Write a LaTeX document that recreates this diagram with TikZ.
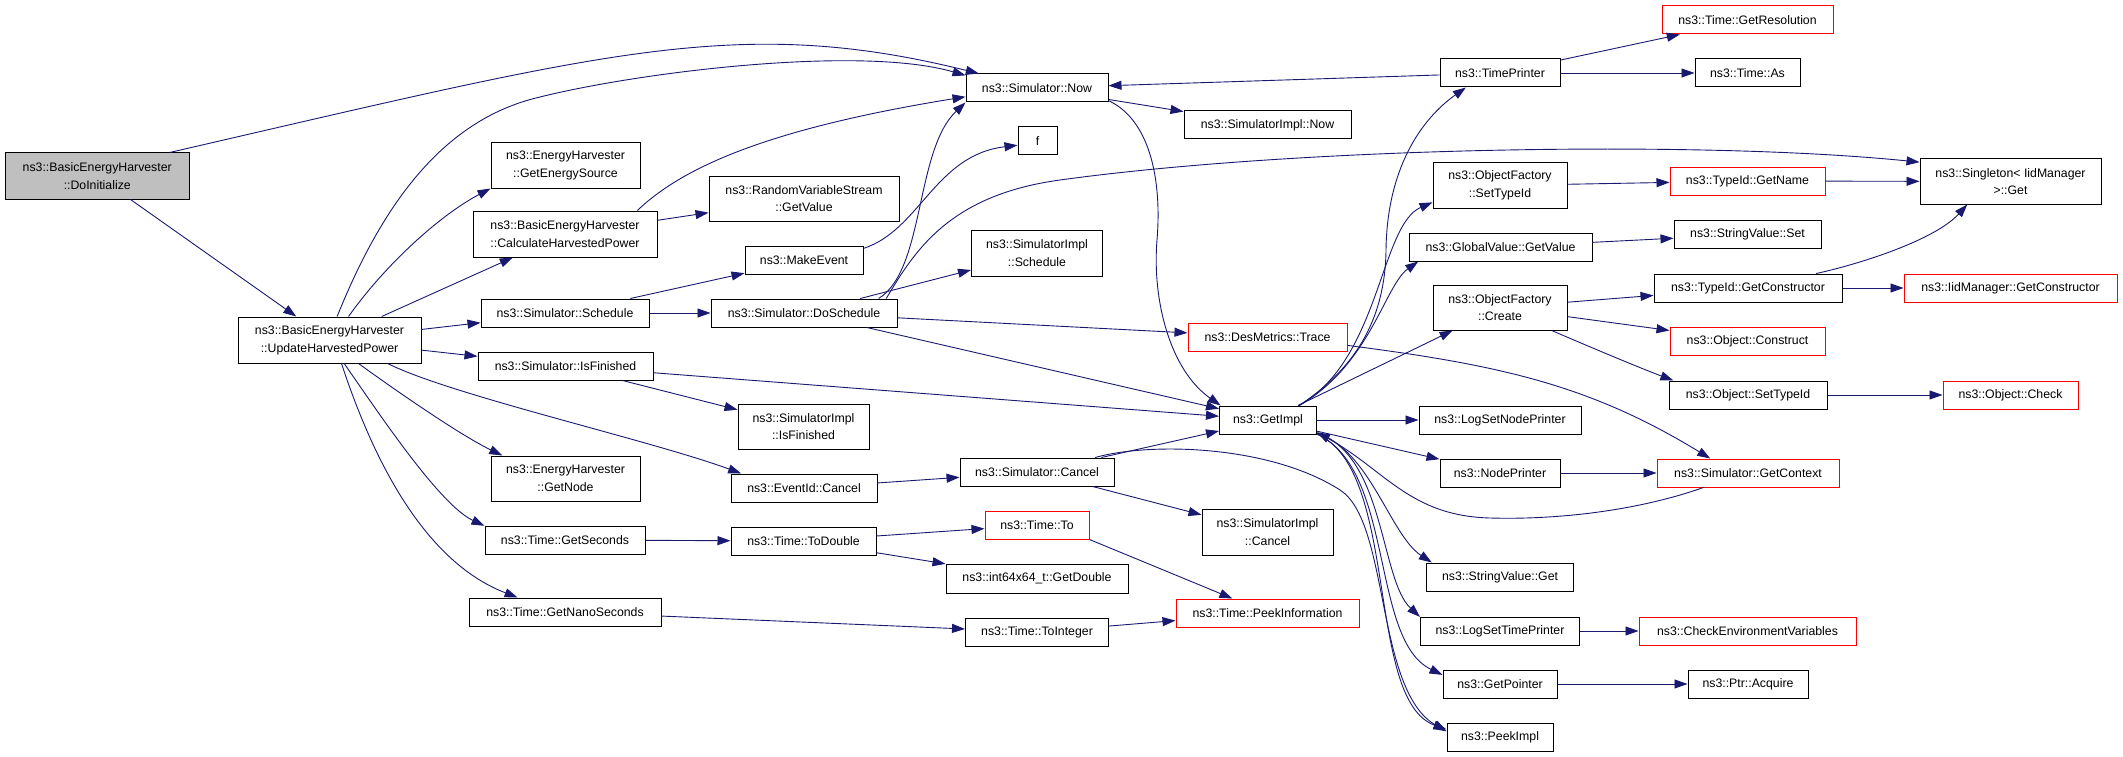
\documentclass[tikz,border=0pt]{standalone}
\usepackage{fontspec}
\setmainfont{Liberation Sans}
\usetikzlibrary{arrows.meta}
\definecolor{callblue}{RGB}{25,25,112}
\definecolor{rootgray}{RGB}{191,191,191}

\begin{document}
\begin{tikzpicture}[x=1pt, y=-1pt,
    func/.style={draw=black, line width=1pt, fill=white, inner sep=0pt, align=center,
        font=\fontsize{12.3}{17.7}\selectfont},
    trunc/.style={func, draw=red},
    root/.style={func, fill=rootgray},
    wh/.style 2 args={minimum width=#1pt, minimum height=#2pt},
    call/.style={draw=callblue, line width=0.9pt, -{Triangle[length=13pt,width=9pt]}}]
    \useasboundingbox (0,0) rectangle (2123,757);

    \node[root, wh={183.5}{46}] (dinit) at (97.25,176) {ns3::BasicEnergyHarvester\\::DoInitialize};
    \node[func, wh={183}{46}] (upd) at (329.5,340) {ns3::BasicEnergyHarvester\\::UpdateHarvestedPower};

    \node[func, wh={149}{45}] (getes) at (565.5,165.5) {ns3::EnergyHarvester\\::GetEnergySource};
    \node[func, wh={184}{46}] (calc) at (565,234) {ns3::BasicEnergyHarvester\\::CalculateHarvestedPower};
    \node[func, wh={168}{28}] (sched) at (565,313) {ns3::Simulator::Schedule};
    \node[func, wh={175}{28}] (isfin) at (565.5,366) {ns3::Simulator::IsFinished};
    \node[func, wh={149}{45}] (getnode) at (565.5,478.5) {ns3::EnergyHarvester\\::GetNode};
    \node[func, wh={160}{28}] (getsec) at (565,540) {ns3::Time::GetSeconds};
    \node[func, wh={192}{28}] (getnano) at (565,612) {ns3::Time::GetNanoSeconds};

    \node[func, wh={190}{45}] (rvs) at (804,198.5) {ns3::RandomVariableStream\\::GetValue};
    \node[func, wh={118}{28}] (mkev) at (804,260) {ns3::MakeEvent};
    \node[func, wh={186}{28}] (dosch) at (804,313) {ns3::Simulator::DoSchedule};
    \node[func, wh={131}{45}] (implfin) at (803.5,426.5) {ns3::SimulatorImpl\\::IsFinished};
    \node[func, wh={146}{28}] (evcancel) at (804,488) {ns3::EventId::Cancel};
    \node[func, wh={145}{28}] (todouble) at (803.5,541) {ns3::Time::ToDouble};

    \node[func, wh={142}{28}] (now) at (1037,88) {ns3::Simulator::Now};
    \node[func, wh={39}{28}] (f) at (1037.5,141) {f};
    \node[func, wh={131}{46}] (implsch) at (1037,253) {ns3::SimulatorImpl\\::Schedule};
    \node[func, wh={154}{28}] (simcancel) at (1037,472) {ns3::Simulator::Cancel};
    \node[trunc, wh={104}{28}] (timeto) at (1037,525) {ns3::Time::To};
    \node[func, wh={182}{29}] (getdouble) at (1037,578.5) {ns3::int64x64\_t::GetDouble};
    \node[func, wh={143}{28}] (tointeger) at (1037,632) {ns3::Time::ToInteger};

    \node[func, wh={167}{28}] (implnow) at (1267.5,125) {ns3::SimulatorImpl::Now};
    \node[trunc, wh={159}{28}] (trace) at (1267.5,337) {ns3::DesMetrics::Trace};
    \node[func, wh={97}{28}] (getimpl) at (1268,420) {ns3::GetImpl};
    \node[func, wh={131}{46}] (implcancel) at (1267.5,532) {ns3::SimulatorImpl\\::Cancel};
    \node[trunc, wh={183}{28}] (peekinfo) at (1267.5,613) {ns3::Time::PeekInformation};

    \node[func, wh={120}{28}] (tprint) at (1500,73) {ns3::TimePrinter};
    \node[func, wh={134}{45}] (ofsettid) at (1500,185.5) {ns3::ObjectFactory\\::SetTypeId};
    \node[func, wh={183}{28}] (gvget) at (1500.5,247) {ns3::GlobalValue::GetValue};
    \node[func, wh={134}{45}] (ofcreate) at (1500,307.5) {ns3::ObjectFactory\\::Create};
    \node[func, wh={162}{28}] (lognode) at (1500,420) {ns3::LogSetNodePrinter};
    \node[func, wh={120}{28}] (nodeprint) at (1500,473) {ns3::NodePrinter};
    \node[func, wh={147}{28}] (svget) at (1500,577) {ns3::StringValue::Get};
    \node[func, wh={159}{28}] (logtime) at (1500,631) {ns3::LogSetTimePrinter};
    \node[func, wh={114}{28}] (getptr) at (1500,684) {ns3::GetPointer};
    \node[func, wh={106}{28}] (peekimpl) at (1500,737) {ns3::PeekImpl};

    \node[trunc, wh={171}{28}] (getres) at (1747.5,20) {ns3::Time::GetResolution};
    \node[func, wh={105}{28}] (timeas) at (1747.5,73) {ns3::Time::As};
    \node[trunc, wh={155}{28}] (getname) at (1747.5,181) {ns3::TypeId::GetName};
    \node[func, wh={147}{28}] (svset) at (1747.5,234.5) {ns3::StringValue::Set};
    \node[func, wh={188}{28}] (getctor) at (1748,288) {ns3::TypeId::GetConstructor};
    \node[trunc, wh={155}{28}] (construct) at (1747.5,341) {ns3::Object::Construct};
    \node[func, wh={158}{28}] (objsettid) at (1748,395) {ns3::Object::SetTypeId};
    \node[trunc, wh={182}{28}] (getctx) at (1748,473) {ns3::Simulator::GetContext};
    \node[trunc, wh={217}{28}] (checkenv) at (1747.5,631) {ns3::CheckEnvironmentVariables};
    \node[func, wh={120}{28}] (acquire) at (1748,684) {ns3::Ptr::Acquire};

    \node[func, wh={181}{45}] (single) at (2010.5,181.5) {ns3::Singleton< IidManager\\ >::Get};
    \node[trunc, wh={213}{28}] (iidctor) at (2010.5,288) {ns3::IidManager::GetConstructor};
    \node[trunc, wh={135}{28}] (check) at (2010.5,395) {ns3::Object::Check};

    \foreach \a/\b in {dinit/upd, upd/calc, upd/sched, upd/isfin, calc/rvs, sched/mkev, sched/dosch,
        isfin/implfin, isfin/getimpl, dosch/implsch, dosch/trace, dosch/getimpl, now/implnow,
        tprint/now, tprint/getres, tprint/timeas, evcancel/simcancel, simcancel/getimpl,
        simcancel/implcancel, getsec/todouble, todouble/timeto, todouble/getdouble,
        getnano/tointeger, tointeger/peekinfo, getimpl/ofcreate, getimpl/lognode,
        getimpl/nodeprint, nodeprint/getctx, ofsettid/getname, getname/single, gvget/svset,
        ofcreate/getctor, ofcreate/construct, getctor/iidctor, objsettid/check,
        logtime/checkenv, getptr/acquire}
        \draw[call] (\a) -- (\b);
    \draw[call] (timeto.south east) -- (peekinfo);

    \draw[call] (dinit.18) .. controls (606,52) and (738,14) .. (now.166);
    \draw[call] (upd.72) .. controls (380,210) and (440,120) .. (540,97)
        .. controls (640,72) and (860,45) .. (now.170);
    \draw[call] (calc.18) .. controls (680,170) and (760,130) .. (now.187);
    \draw[call] (dosch.11) .. controls (925,270) and (915,150) .. (now.south west);
    \draw[call] (mkev.11) .. controls (920,230) and (935,155) .. (f.192);
    \draw[call] (dosch.10) .. controls (915,250) and (950,195) .. (1060,180)
        .. controls (1300,147) and (1700,140) .. (single.168);
    \draw[call] (now.-10) .. controls (1150,120) and (1162,180) .. (1157,240)
        .. controls (1152,300) and (1170,370) .. (getimpl.163);

    \draw[call] (upd.51) .. controls (385,265) and (440,215) .. (getes.south west);
    \draw[call] (upd.-39) .. controls (395,390) and (460,435) .. (getnode.160);
    \draw[call] (upd.-58) .. controls (380,415) and (440,505) .. (getsec.170);
    \draw[call] (upd.-63) .. controls (370,450) and (420,560) .. (getnano.163);
    \draw[call] (upd.-22) .. controls (450,395) and (650,440) .. (evcancel.167);

    \draw[call] (getimpl.25) .. controls (1345,375) and (1385,330) .. (1386,250)
        .. controls (1387,170) and (1420,120) .. (tprint.203);
    \draw[call] (getimpl.25) .. controls (1380,360) and (1380,225) .. (ofsettid.194);
    \draw[call] (getimpl.25) .. controls (1370,365) and (1385,285) .. (gvget.190);
    \draw[call] (getimpl.-15) .. controls (1370,450) and (1390,535) .. (svget.168);
    \draw[call] (getimpl.-15) .. controls (1385,455) and (1380,580) .. (logtime.170);
    \draw[call] (getimpl.-16) .. controls (1395,470) and (1370,640) .. (getptr.171);
    \draw[call] (getimpl.-16) .. controls (1400,470) and (1365,700) .. (peekimpl.172);
    \draw[call] (simcancel.14) .. controls (1150,442) and (1270,445) .. (1340,490)
        .. controls (1390,522) and (1375,690) .. (peekimpl.174);
    \draw[call] (getctx.198) .. controls (1640,510) and (1560,520) .. (1490,518)
        .. controls (1410,516) and (1385,470) .. (getimpl.-14);
    \draw[call] (trace.-6) .. controls (1500,365) and (1590,385) .. (getctx.159);

    \draw[call] (ofcreate.-24) .. controls (1590,347) and (1640,368) .. (objsettid.169);
    \draw[call] (getctor.12) .. controls (1860,264) and (1935,240) .. (single.208);
\end{tikzpicture}
\end{document}
